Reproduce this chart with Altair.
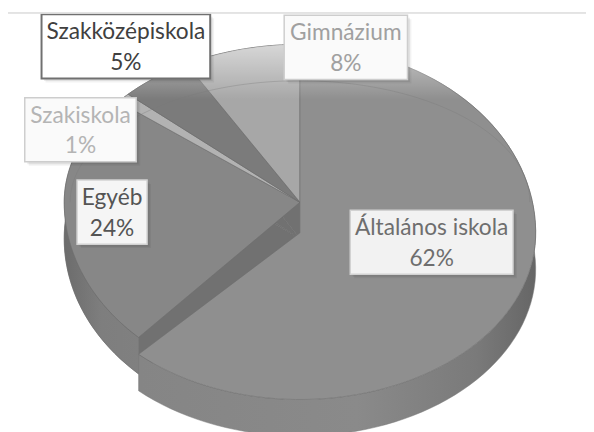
import math
import altair as alt
import pandas as pd

# ---- data ----
categories = ["Általános iskola", "Egyéb", "Szakiskola", "Szakközépiskola", "Gimnázium"]
shares = [62, 24, 1, 5, 8]
pct_text = ["62%", "24%", "1%", "5%", "8%"]

# ---- styles / layout (kept apart from the data) ----
top_colors = ["#8f8f8f", "#878787", "#b2b2b2", "#7b7b7b", "#a7a7a7"]
text_colors = ["#6e6e6e", "#545454", "#b4b4b4", "#404040", "#a0a0a0"]
box_strokes = ["#d2d2d2", "#d2d2d2", "#cdcdcd", "#707070", "#cdcdcd"]
box_stroke_w = [1.5, 1.5, 1.5, 2, 1.5]
box_fills = ["#f2f2f2", "#f5f5f5", "#fafafa", "#ffffff", "#fafafa"]
label_x = [429.5, 105.5, 73.5, 119.5, 342.5]
label_y = [234.5, 204, 120.5, 36, 37]
box_w = [165, 71, 113, 171, 125]
BOX_H = 65
FONT = "Lato"
FONT_SIZE = 23

# 3D pie geometry (pixel ranges of the scales)
X_RANGE = [57, 535]
Y_REST = [382, 194, 34]        # y range for cos = -1, 0, 1 (back slices)
Y_MAIN = [394, 225, 36]        # y range for cos = -1, 0, 1 (exploded slice)
THICK = 37                     # height of the side in px
N = 90                         # points per slice outline
WALL = "#717171"

df = pd.DataFrame({
    "idx": list(range(len(categories))),
    "cat": categories,
    "share": shares,
    "pct": pct_text,
    "top_col": top_colors,
    "tcol": text_colors,
    "bstroke": box_strokes,
    "bsw": box_stroke_w,
    "bfill": box_fills,
    "lx": label_x,
    "ly": label_y,
    "bw": box_w,
})

# outline vertices for every slice (top face, side strip, bottom face)
rows = []
for i, (cat, sh) in enumerate(zip(categories, shares)):
    for part in ("top", "base"):
        lvl = 0 if part == "top" else 1
        rows.append(dict(idx=i, cat=cat, share=sh, part=part, v=0, t=0.0, apex=1, lvl=lvl))
        for k in range(N + 1):
            rows.append(dict(idx=i, cat=cat, share=sh, part=part, v=k + 1, t=k / N, apex=0, lvl=lvl))
        rows.append(dict(idx=i, cat=cat, share=sh, part=part, v=N + 2, t=0.0, apex=1, lvl=lvl))
    for k in range(N + 1):
        rows.append(dict(idx=i, cat=cat, share=sh, part="side", v=k, t=k / N, apex=0, lvl=0))
        rows.append(dict(idx=i, cat=cat, share=sh, part="side", v=2 * N + 1 - k, t=k / N, apex=0, lvl=1))
verts = pd.DataFrame(rows)
verts["col"] = verts["idx"].map(dict(enumerate(top_colors)))

drop_rest = THICK / (Y_REST[0] - Y_REST[1])
drop_main = THICK / (Y_MAIN[0] - Y_MAIN[1])

geo = alt.Chart(verts).transform_calculate(
    f="(datum.part == 'top' && datum.v == 0) ? datum.share : 0"
).transform_joinaggregate(
    total="sum(f)"
).transform_window(
    end="sum(f)",
    sort=[alt.SortField("idx", order="ascending"), alt.SortField("f", order="descending")],
    frame=[None, 0],
).transform_calculate(
    ang="2 * PI * (datum.end - datum.share + datum.share * datum.t) / datum.total"
).transform_calculate(
    px="datum.apex ? 0 : sin(datum.ang)",
    c0="datum.apex ? 0 : cos(datum.ang)",
).transform_calculate(
    py=f"datum.c0 - datum.lvl * (datum.idx == 0 ? {drop_main} : {drop_rest})"
)

xs = alt.Scale(domain=[-1, 1], range=X_RANGE, nice=False, zero=False)
ys_rest = alt.Scale(domain=[-1, 0, 1], range=Y_REST, nice=False, zero=False)
ys_main = alt.Scale(domain=[-1, 0, 1], range=Y_MAIN, nice=False, zero=False)


def shape(part, main, fill=None, stroke=None, sw=0.6, colfield=False):
    cond = "datum.idx == 0" if main else "datum.idx != 0"
    enc = dict(
        x=alt.X("px:Q", scale=xs, axis=None),
        y=alt.Y("py:Q", scale=ys_main if main else ys_rest, axis=None),
        order=alt.Order("v:Q"),
        detail=alt.Detail("cat:N"),
    )
    if colfield:
        enc["fill"] = alt.Fill("col:N", scale=None)
    mk = dict(interpolate="linear", strokeWidth=sw, strokeJoin="round")
    if fill is not None:
        mk["fill"] = fill
    mk["stroke"] = stroke if stroke is not None else "transparent"
    return geo.transform_filter(f"datum.part == '{part}' && {cond}").mark_line(**mk).encode(**enc)


side_rest = alt.LinearGradient(
    gradient="linear", x1=0, x2=1, y1=0, y2=0,
    stops=[alt.GradientStop(offset=0, color="#6c6c6c"),
           alt.GradientStop(offset=0.5, color="#7e7e7e"),
           alt.GradientStop(offset=1, color="#808080")])
side_main = alt.LinearGradient(
    gradient="linear", x1=0, x2=1, y1=0, y2=0,
    stops=[alt.GradientStop(offset=0, color="#858585"),
           alt.GradientStop(offset=0.55, color="#8a8a8a"),
           alt.GradientStop(offset=0.85, color="#7a7a7a"),
           alt.GradientStop(offset=1, color="#666666")])

layers = [
    shape("base", False, fill=WALL, stroke="#6a6a6a", sw=0.5),
    shape("side", False, fill=side_rest, stroke="#707070", sw=0.5),
    shape("top", False, stroke="#6c6c6c", sw=0.6, colfield=True),
    shape("side", True, fill=side_main, stroke="#7a7a7a", sw=0.5),
    shape("top", True, stroke="#6c6c6c", sw=0.6, colfield=True),
]

# bevel glare at the back of the pie and the faint bevel line
ring = pd.DataFrame({"t": [k / 180 for k in range(181)]})
glare = alt.LinearGradient(
    gradient="linear", x1=0, x2=0, y1=0, y2=1,
    stops=[alt.GradientStop(offset=0, color="rgba(255,255,255,0.55)"),
           alt.GradientStop(offset=0.08, color="rgba(255,255,255,0.28)"),
           alt.GradientStop(offset=0.16, color="rgba(255,255,255,0)"),
           alt.GradientStop(offset=1, color="rgba(255,255,255,0)")])
layers.append(alt.Chart(ring).transform_calculate(
    px="sin(2 * PI * datum.t)", py="cos(2 * PI * datum.t)", v="datum.t"
).mark_line(fill=glare, stroke="transparent").encode(
    x=alt.X("px:Q", scale=xs, axis=None),
    y=alt.Y("py:Q", scale=ys_rest, axis=None),
    order=alt.Order("v:Q")))
layers.append(alt.Chart(ring).transform_calculate(
    a="PI * (datum.t - 0.5)", v="datum.t"
).transform_calculate(
    px="0.975 * sin(datum.a)", py="0.77 * cos(datum.a)"
).mark_line(stroke="#7a7a7a", strokeWidth=0.8, opacity=0.45).encode(
    x=alt.X("px:Q", scale=xs, axis=None),
    y=alt.Y("py:Q", scale=ys_rest, axis=None),
    order=alt.Order("v:Q")))

# label boxes
lab = alt.Chart(df).transform_calculate(
    x1="datum.lx - datum.bw / 2", x2="datum.lx + datum.bw / 2",
    y1=f"datum.ly - {BOX_H / 2}", y2=f"datum.ly + {BOX_H / 2}",
    ty1="datum.ly - 14", ty2="datum.ly + 17",
)
for sh, op in [(4, 0.05), (2.5, 0.07)]:
    layers.append(lab.transform_calculate(
        sx1=f"datum.x1 + {sh}", sx2=f"datum.x2 + {sh}",
        sy1=f"datum.y1 + {sh}", sy2=f"datum.y2 + {sh}",
    ).mark_rect(fill="#000000", opacity=op).encode(
        x=alt.X("sx1:Q", scale=None, axis=None), x2="sx2:Q",
        y=alt.Y("sy1:Q", scale=None, axis=None), y2="sy2:Q"))
layers.append(lab.mark_rect().encode(
    x=alt.X("x1:Q", scale=None, axis=None), x2="x2:Q",
    y=alt.Y("y1:Q", scale=None, axis=None), y2="y2:Q",
    fill=alt.Fill("bfill:N", scale=None),
    stroke=alt.Stroke("bstroke:N", scale=None),
    strokeWidth=alt.StrokeWidth("bsw:Q", scale=None)))
for fld, yf in (("cat", "ty1"), ("pct", "ty2")):
    layers.append(lab.mark_text(font=FONT, fontSize=FONT_SIZE, align="center", baseline="middle").encode(
        x=alt.X("lx:Q", scale=None, axis=None), y=alt.Y(f"{yf}:Q", scale=None, axis=None),
        text=f"{fld}:N", color=alt.Color("tcol:N", scale=None)))

# thin frame line at the top
layers.append(alt.Chart(df).mark_rule(color="#e3e3e3", strokeWidth=1).encode(
    x=alt.value(0), x2=alt.value(586), y=alt.value(2)))

chart = alt.layer(*layers).resolve_scale(
    x="independent", y="independent"
).properties(
    width=586, height=424, padding=0,
    autosize=alt.AutoSizeParams(type="none"),
    background="white",
).configure_view(stroke=None)

chart.save("out.html", embed_options={"renderer": "svg", "actions": False})
